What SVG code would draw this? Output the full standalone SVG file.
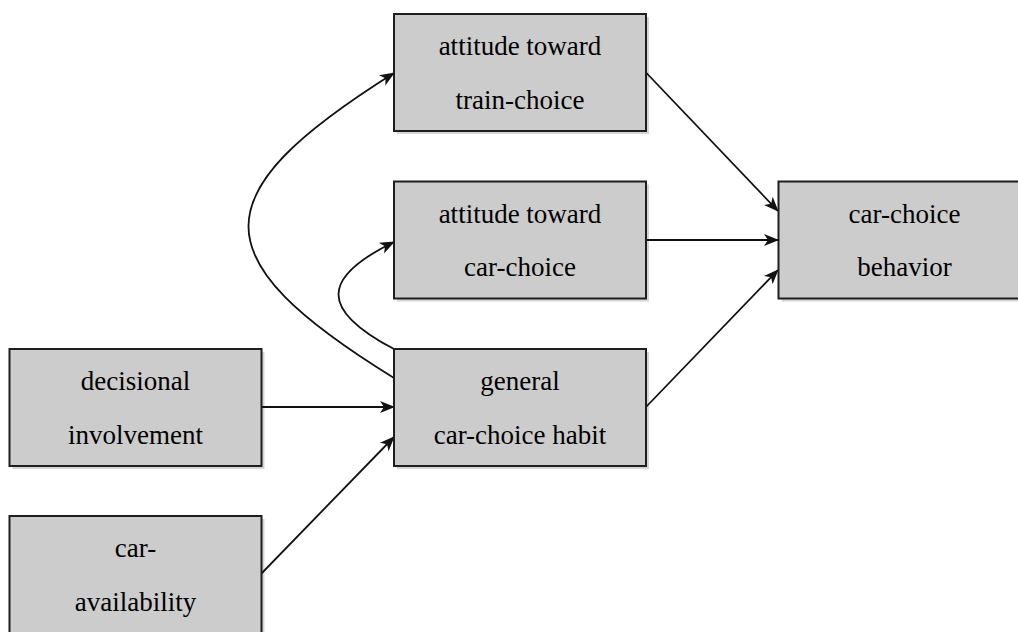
<svg xmlns="http://www.w3.org/2000/svg" width="1018" height="632" viewBox="0 0 1018 632">
  <style>
    .shadow { fill: #d6d6d6; stroke: none; }
    .box { fill: #cccccc; stroke: #1e1e1e; stroke-width: 2; }
    .label { font-family: 'Liberation Serif', 'Times New Roman', serif; font-size: 27px; fill: #000000; text-anchor: middle; }
    .edge { fill: none; stroke: #111111; stroke-width: 1.8; }
  </style>
  <defs>
    <marker id="arrow" markerUnits="userSpaceOnUse" markerWidth="16" markerHeight="14" refX="14" refY="6" orient="auto" overflow="visible">
      <path d="M0,0 L15,6 L0,12 L4,6 Z" fill="#111111"/>
    </marker>
  </defs>

  <rect width="1018" height="632" fill="#ffffff"/>

  <!-- soft drop shadows sit underneath everything else -->
  <g id="shadows">
    <rect class="shadow" x="397" y="17" width="252" height="117"/>
    <rect class="shadow" x="397" y="184.5" width="252" height="117"/>
    <rect class="shadow" x="781.5" y="184.5" width="252" height="117"/>
    <rect class="shadow" x="12.5" y="352" width="252" height="117"/>
    <rect class="shadow" x="397" y="352" width="252" height="117"/>
    <rect class="shadow" x="12.5" y="519" width="252" height="117"/>
  </g>

  <g id="connectors">
    <!-- into car-choice behavior -->
    <path class="edge" d="M646,72.5 L778,211" marker-end="url(#arrow)"/>
    <path class="edge" d="M646,240 L778,240" marker-end="url(#arrow)"/>
    <path class="edge" d="M646,407 L778,270" marker-end="url(#arrow)"/>
    <!-- into general car-choice habit -->
    <path class="edge" d="M261,407 L394,407" marker-end="url(#arrow)"/>
    <path class="edge" d="M261,574 L394,437" marker-end="url(#arrow)"/>
    <!-- habit feeding back to the attitudes -->
    <path class="edge" d="M394,378 C200,258 200,195 394,73" marker-end="url(#arrow)"/>
    <path class="edge" d="M394,349 C320,310 320,278 394,242" marker-end="url(#arrow)"/>
  </g>

  <g id="node-attitude-train">
    <rect class="box" x="394" y="14" width="252" height="117"/>
    <text class="label" x="520" y="55">attitude toward</text>
    <text class="label" x="520" y="108.5">train-choice</text>
  </g>

  <g id="node-attitude-car">
    <rect class="box" x="394" y="181.5" width="252" height="117"/>
    <text class="label" x="520" y="222.5">attitude toward</text>
    <text class="label" x="520" y="276">car-choice</text>
  </g>

  <g id="node-behavior">
    <rect class="box" x="778.5" y="181.5" width="252" height="117"/>
    <text class="label" x="904.5" y="222.5">car-choice</text>
    <text class="label" x="904.5" y="276">behavior</text>
  </g>

  <g id="node-decisional">
    <rect class="box" x="9.5" y="349" width="252" height="117"/>
    <text class="label" x="135.5" y="390">decisional</text>
    <text class="label" x="135.5" y="443.5">involvement</text>
  </g>

  <g id="node-habit">
    <rect class="box" x="394" y="349" width="252" height="117"/>
    <text class="label" x="520" y="390">general</text>
    <text class="label" x="520" y="443.5">car-choice habit</text>
  </g>

  <g id="node-availability">
    <rect class="box" x="9.5" y="516" width="252" height="117"/>
    <text class="label" x="135.5" y="557">car-</text>
    <text class="label" x="135.5" y="610.5">availability</text>
  </g>
</svg>
